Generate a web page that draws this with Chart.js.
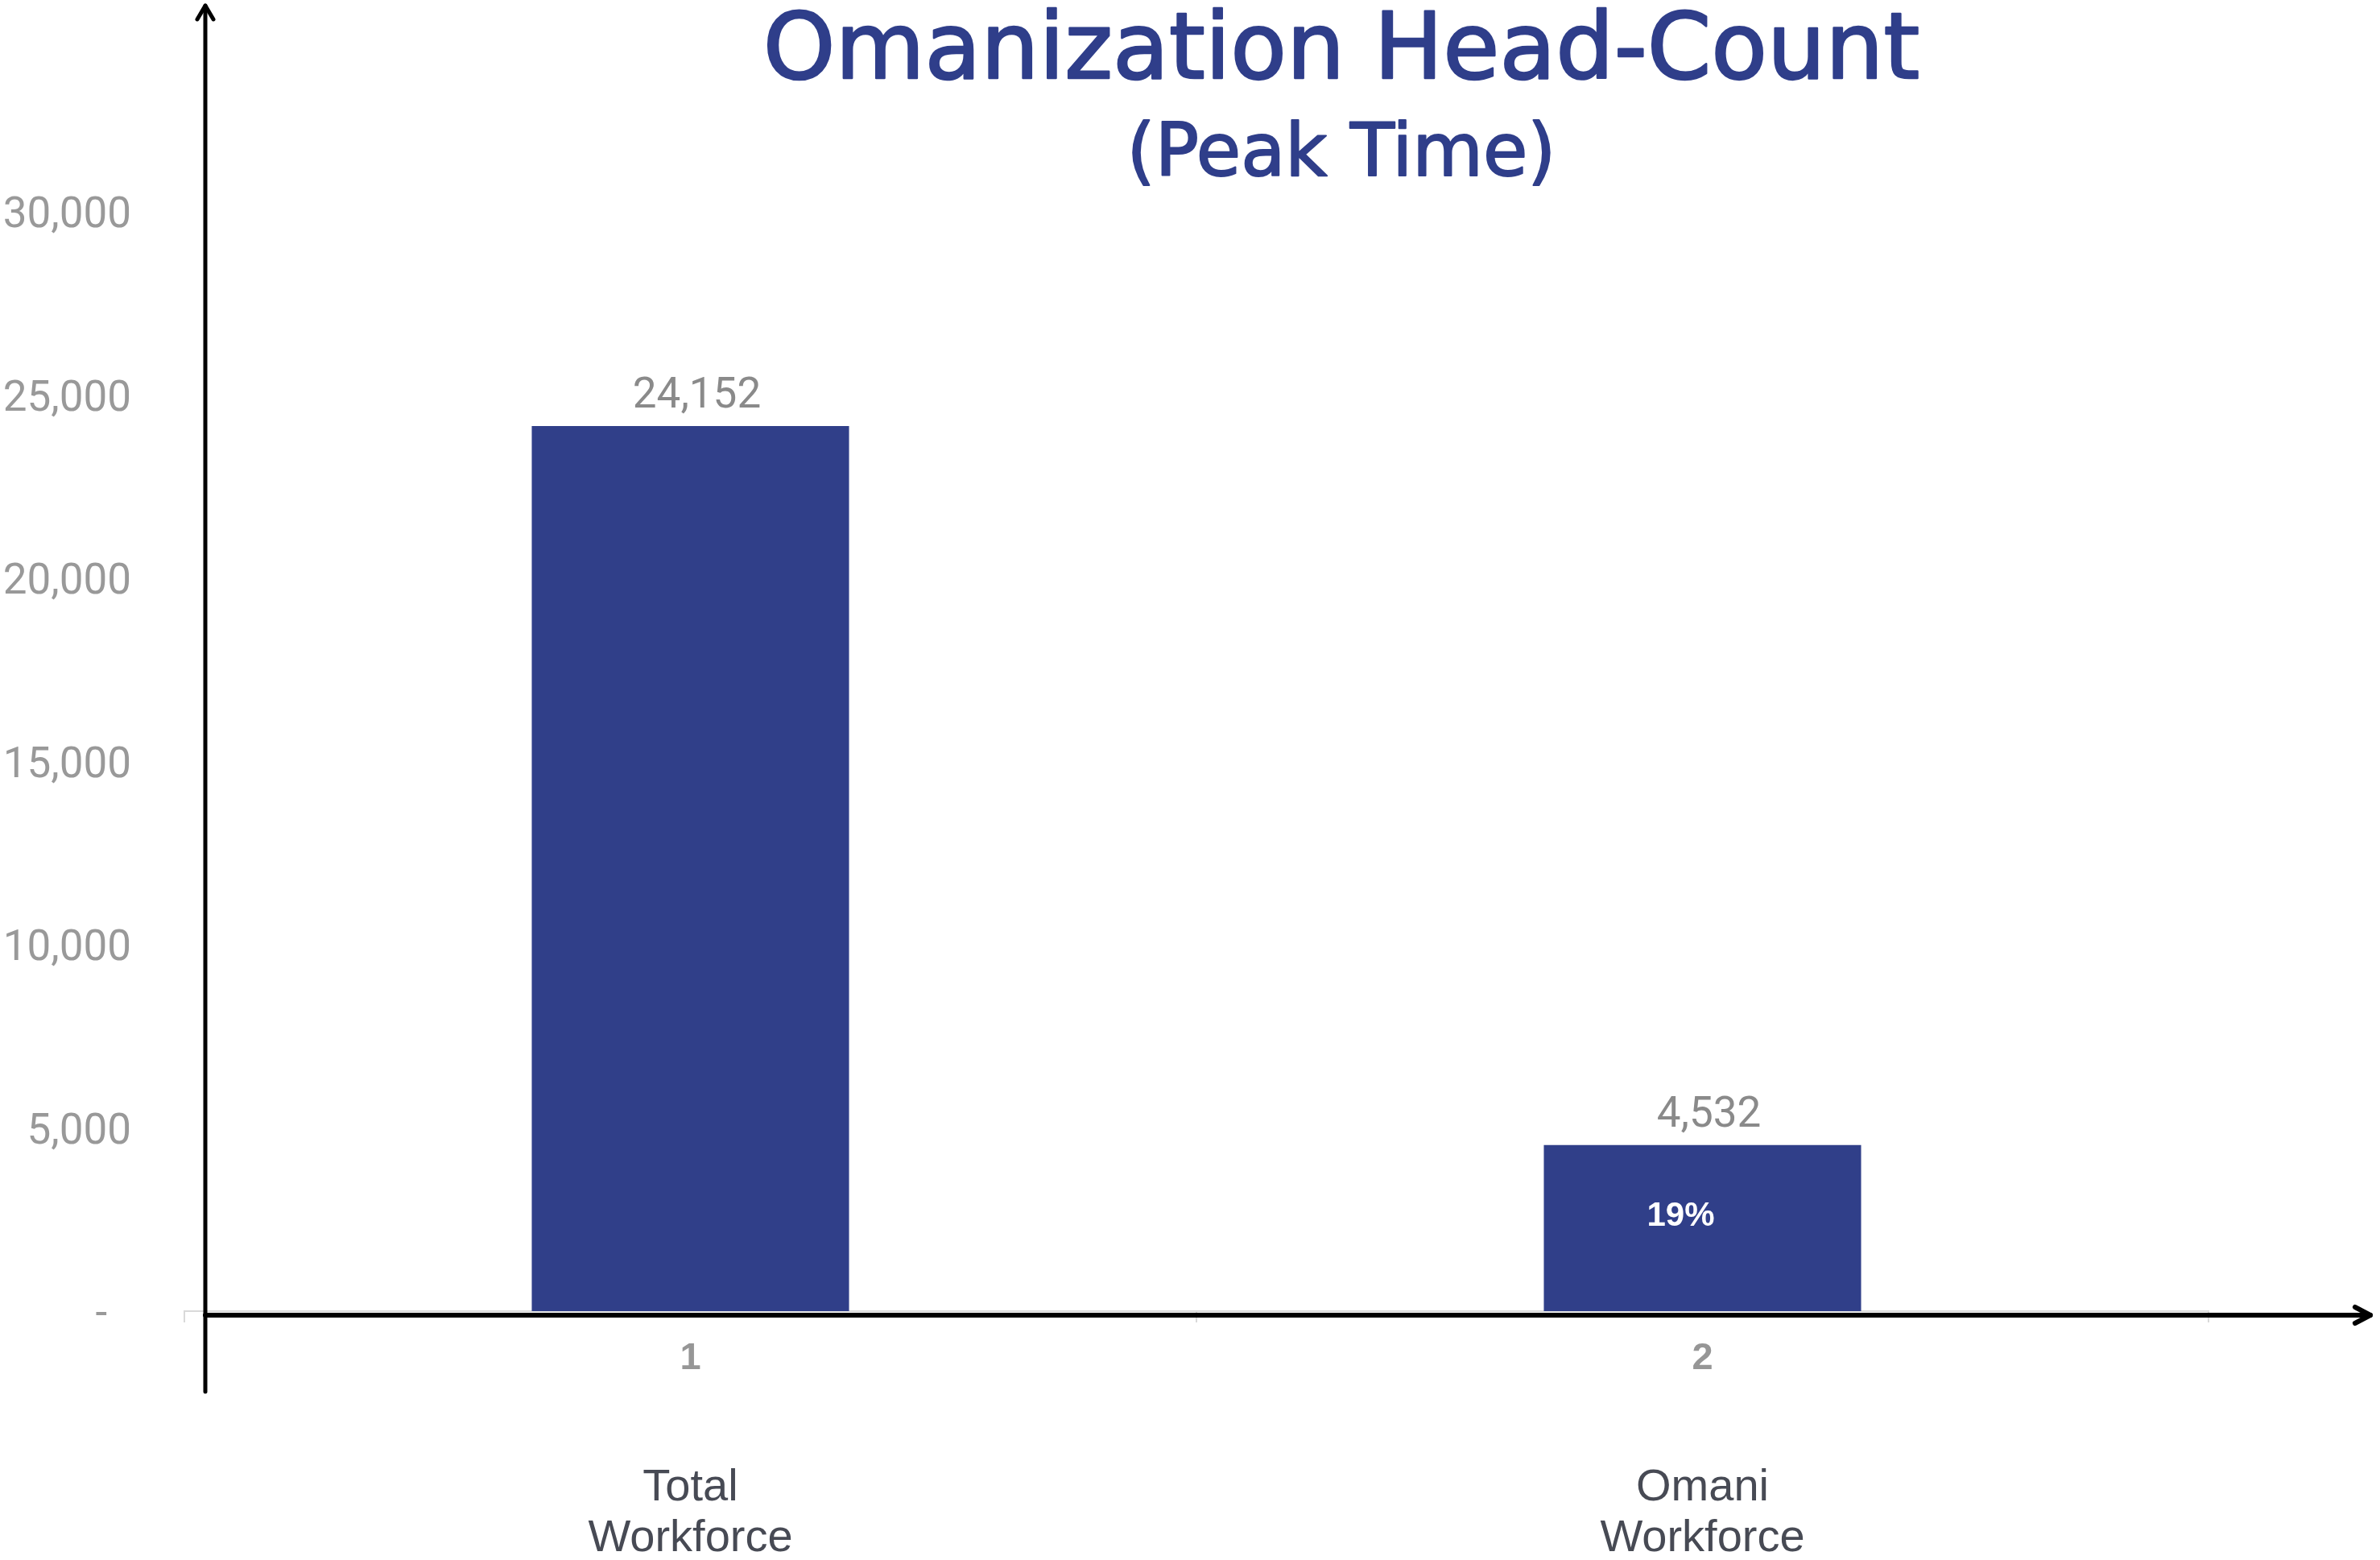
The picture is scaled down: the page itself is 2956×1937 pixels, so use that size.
<!DOCTYPE html>
<html>
<head>
<meta charset="utf-8">
<script src="https://cdn.jsdelivr.net/npm/chart.js@4.4.1/dist/chart.umd.min.js"></script>
<style>
  html, body { margin: 0; padding: 0; background: #fff; }
  #wrap { width: 2956px; height: 1937px; }
</style>
</head>
<body>
<div id="wrap"><canvas id="myChart" width="2956" height="1937"></canvas></div>
<script>
const titleText = 'Omanization Head-Count';
const subtitleText = '(Peak Time)';
const tickLabels = ['1', '2'];
const categoryNames = [['Total', 'Workforce'], ['Omani', 'Workforce']];
const headCount = [24152, 4532];
const shareLabels = ['', '19%'];
const yTicks = [0, 5000, 10000, 15000, 20000, 25000, 30000];

const navy = '#303f89';

// title block, centred a bit right of the plot like the original
const headline = {
    id: 'headline',
    afterDraw(chart) {
        const ctx = chart.ctx;
        const cx = 1666;
        ctx.save();
        ctx.fillStyle = '#2f3e8a';
        ctx.strokeStyle = '#2f3e8a';
        ctx.lineJoin = 'round';
        ctx.textAlign = 'center';
        ctx.textBaseline = 'alphabetic';
        ctx.font = '114px "DejaVu Sans"';
        ctx.lineWidth = 2.5;
        ctx.fillText(titleText, cx, 97);
        ctx.strokeText(titleText, cx, 97);
        ctx.font = '90px "DejaVu Sans"';
        ctx.lineWidth = 2;
        ctx.fillText(subtitleText, cx, 218);
        ctx.strokeText(subtitleText, cx, 218);
        ctx.restore();
    }
};

// value labels above the bars + share label inside
const barLabels = {
    id: 'barLabels',
    afterDatasetsDraw(chart) {
        const ctx = chart.ctx;
        const bars = chart.getDatasetMeta(0).data;
        ctx.save();
        ctx.textAlign = 'center';
        ctx.textBaseline = 'alphabetic';
        bars.forEach((bar, i) => {
            ctx.font = '53px Roboto';
            ctx.fillStyle = '#8a8a8a';
            ctx.fillText(headCount[i].toLocaleString('en-US'), bar.x + 8, bar.y - 23);
            if (shareLabels[i]) {
                ctx.font = 'bold 42px "Liberation Sans"';
                ctx.fillStyle = '#ffffff';
                ctx.fillText(shareLabels[i], bar.x - 27, bar.y + 100);
            }
        });
        ctx.restore();
    }
};

// black axes with arrow heads drawn over the excel-style axis
const axisArrows = {
    id: 'axisArrows',
    afterDraw(chart) {
        const { ctx, chartArea } = chart;
        const ax = chartArea.left + 26;
        const ay = chartArea.bottom + 5;
        const right = chart.width - 12;
        ctx.save();
        ctx.strokeStyle = '#000';
        ctx.lineCap = 'round';
        ctx.lineJoin = 'round';

        ctx.lineWidth = 5;
        ctx.beginPath();
        ctx.moveTo(ax, chartArea.bottom + 100);
        ctx.lineTo(ax, 7);
        ctx.stroke();
        ctx.beginPath();
        ctx.moveTo(ax - 10, 24);
        ctx.lineTo(ax, 7);
        ctx.lineTo(ax + 10, 24);
        ctx.stroke();

        ctx.lineWidth = 6;
        ctx.beginPath();
        ctx.moveTo(ax, ay);
        ctx.lineTo(right, ay);
        ctx.stroke();
        ctx.beginPath();
        ctx.moveTo(right - 19, ay - 10);
        ctx.lineTo(right, ay);
        ctx.lineTo(right - 19, ay + 10);
        ctx.stroke();
        ctx.restore();
    }
};

const data = {
    labels: tickLabels,
    datasets: [{
        label: 'Head-Count',
        data: headCount,
        backgroundColor: navy,
        borderWidth: 0,
        barPercentage: 0.3135,
        categoryPercentage: 1
    }]
};

const config = {
    type: 'bar',
    data,
    options: {
        responsive: false,
        animation: false,
        devicePixelRatio: 1,
        layout: { padding: { top: 263, right: 213, bottom: 0, left: 0 } },
        plugins: {
            legend: { display: false },
            tooltip: { enabled: false },
            title: { display: false }
        },
        scales: {
            x: {
                type: 'category',
                position: 'bottom',
                weight: 0,
                offset: true,
                grid: { display: true, drawOnChartArea: false, drawTicks: true, tickLength: 14, color: '#d9d9d9', lineWidth: 2, offset: true },
                border: { display: true, color: '#d9d9d9', width: 2 },
                ticks: {
                    color: '#969696',
                    padding: 17,
                    font: { family: 'Liberation Sans', size: 47, weight: 'bold', lineHeight: 1.2 }
                },
                afterFit(s) { s.height = 83; }
            },
            x2: {
                type: 'category',
                labels: categoryNames,
                position: 'bottom',
                weight: 1,
                offset: true,
                grid: { display: false, drawTicks: false },
                border: { display: false },
                ticks: {
                    color: '#474a54',
                    padding: 105,
                    font: { family: 'Liberation Sans', size: 56, lineHeight: 1.12 }
                },
                afterFit(s) { s.height = 226; }
            },
            y: {
                min: 0,
                max: 30000,
                afterBuildTicks(s) { s.ticks = yTicks.map(v => ({ value: v })); },
                grid: { display: false, drawTicks: false },
                border: { display: false },
                ticks: {
                    color: '#999999',
                    padding: 66,
                    labelOffset: 6,
                    font: { family: 'Roboto', size: 53 },
                    callback: v => v === 0 ? '-\u2007' : v.toLocaleString('en-US')
                },
                afterFit(s) { s.width = 229; }
            }
        }
    },
    plugins: [barLabels, axisArrows, headline]
};

const myChart = new Chart(document.getElementById('myChart'), config);
</script>
</body>
</html>
